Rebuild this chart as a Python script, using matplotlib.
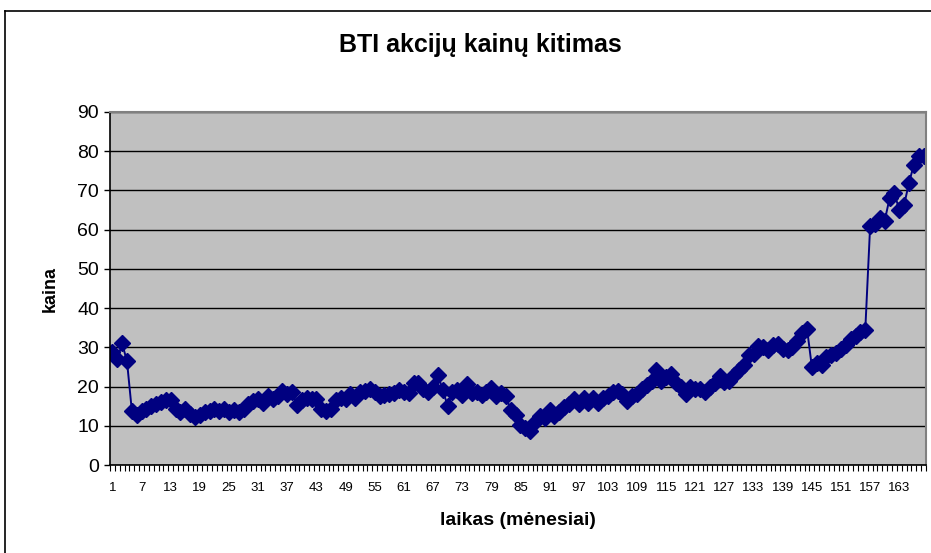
import matplotlib.pyplot as plt
import numpy as np
from matplotlib.lines import Line2D

# BTI share price by month
prices = [
    28.8, 26.9, 31.0, 26.4, 13.8, 12.7, 13.8, 14.4, 15.1, 15.5,
    16.1, 16.6, 16.6, 14.2, 13.6, 14.2, 13.0, 12.2, 12.7, 13.4,
    13.8, 14.2, 13.8, 14.4, 13.6, 14.0, 13.4, 14.4, 15.5, 16.2,
    16.8, 15.9, 17.6, 16.8, 17.5, 18.9, 18.0, 18.5, 15.3, 16.5,
    17.2, 16.8, 16.9, 14.2, 13.8, 14.2, 16.5, 17.2, 16.8, 18.0,
    17.2, 18.5, 18.9, 19.3, 18.5, 17.6, 17.9, 18.0, 18.3, 19.0,
    18.5, 18.3, 21.0, 20.8, 19.5, 18.5, 20.0, 23.0, 19.2, 15.1,
    18.5, 19.2, 17.9, 20.6, 18.3, 18.5, 17.9, 18.5, 19.6, 17.5,
    18.3, 17.5, 14.0, 12.8, 10.3, 9.5, 8.7, 11.0, 12.5, 12.1,
    14.0, 12.4, 13.5, 14.7, 15.5, 16.8, 15.5, 17.0, 15.9, 17.2,
    15.9, 17.2, 17.6, 18.5, 18.9, 18.0, 16.4, 17.6, 18.0, 19.3,
    20.5, 21.5, 24.2, 21.5, 22.5, 23.2, 21.0, 20.0, 18.2, 19.8,
    19.3, 19.5, 18.7, 19.8, 21.0, 22.6, 21.1, 21.4, 23.0, 24.3,
    25.5, 28.0, 28.4, 30.4, 30.0, 29.2, 30.5, 30.8, 29.6, 29.2,
    30.0, 31.5, 33.7, 34.8, 25.0, 26.0, 25.5, 27.5, 28.0, 28.5,
    29.5, 30.5, 32.0, 33.0, 34.0, 34.5, 61.0, 61.5, 63.0, 62.3,
    68.0, 69.3, 65.0, 66.3, 72.0, 76.5, 78.8, 78.7,
]
months = list(range(1, len(prices) + 1))
xtick_labels = list(range(1, len(prices) + 1, 6))
yticks = list(range(0, 91, 10))

plt.rcParams['font.family'] = ['Liberation Sans', 'DejaVu Sans']

fig = plt.figure(figsize=(9.31, 5.53), dpi=100)
W, H = 931, 553
ax = fig.add_axes([110 / W, (H - 465) / H, 816 / W, 353 / H])

ax.set_facecolor('#C0C0C0')
ax.plot(months, prices, color='#000080', lw=1.4, marker='D',
        markersize=8.3, markerfacecolor='#000080', markeredgecolor='#000080')

ax.set_xlim(0.5, len(prices) + 0.5)
ax.set_ylim(0, 90)
ax.set_yticks(yticks)
ax.yaxis.grid(True, color='black', lw=1)
ax.set_axisbelow(True)

ax.set_xticks(xtick_labels)
ax.set_xticklabels([str(v) for v in xtick_labels], fontsize=9.5)
ax.set_xticks(np.arange(0.5, len(prices) + 1, 1), minor=True)
ax.tick_params(axis='x', which='major', length=0, pad=12)
ax.tick_params(axis='x', which='minor', length=4, width=0.8, direction='out')
ax.tick_params(axis='y', length=4, width=1, direction='out', labelsize=14, pad=4)

for side in ['top', 'right']:
    ax.spines[side].set_color('#808080')
    ax.spines[side].set_linewidth(1.5)
for side in ['left', 'bottom']:
    ax.spines[side].set_color('black')
    ax.spines[side].set_linewidth(1.2)

ax.set_ylabel('kaina', fontsize=13, fontweight='bold', labelpad=13)
ax.set_xlabel('laikas (mėnesiai)', fontsize=14, fontweight='bold', labelpad=13)
fig.text(480 / W, 1 - 45 / H, 'BTI akcijų kainų kitimas', ha='center', va='center',
         fontsize=18, fontweight='bold')

# chart border (only top and left visible in frame)
fig.add_artist(Line2D([5 / W, 5 / W], [0, 1 - 11 / H], color='black', lw=1.2,
                      transform=fig.transFigure))
fig.add_artist(Line2D([5 / W, 1], [1 - 11 / H, 1 - 11 / H], color='black', lw=1.2,
                      transform=fig.transFigure))

fig.savefig('out.png', dpi=100)
